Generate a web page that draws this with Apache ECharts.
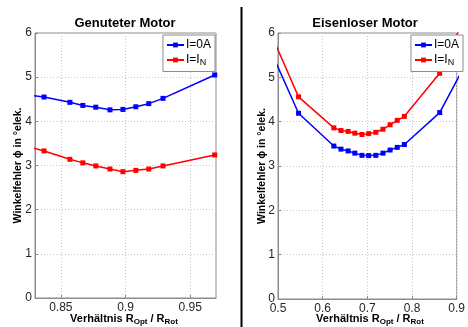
<!DOCTYPE html>
<html><head><meta charset="utf-8">
<script src="https://cdn.jsdelivr.net/npm/echarts@6/dist/echarts.min.js"></script>
<style>html,body{margin:0;padding:0;background:#fff}#c{width:468px;height:327px}</style>
</head><body><div id="c"></div>
<script>
// Left chart: Genuteter Motor (first point lies just outside the axis range, clipped)
const leftX    = [0.817, 0.837, 0.857, 0.867, 0.877, 0.888, 0.898, 0.908, 0.918, 0.929, 0.969];
const leftBlue = [4.63, 4.55, 4.43, 4.36, 4.32, 4.26, 4.27, 4.33, 4.40, 4.52, 5.05];
const leftRed  = [3.49, 3.33, 3.14, 3.06, 2.99, 2.92, 2.86, 2.89, 2.92, 2.99, 3.24];
// Right chart: Eisenloser Motor (end points lie outside the axis range, clipped)
const rightX    = [0.48, 0.546, 0.625, 0.641, 0.657, 0.672, 0.688, 0.703, 0.719, 0.735, 0.751, 0.767, 0.783, 0.862, 0.92];
const rightBlue = [5.68, 4.19, 3.45, 3.38, 3.34, 3.29, 3.24, 3.235, 3.24, 3.29, 3.36, 3.42, 3.485, 4.205, 5.30];
const rightRed  = [6.08, 4.56, 3.86, 3.80, 3.78, 3.74, 3.71, 3.73, 3.76, 3.83, 3.93, 4.03, 4.12, 5.09, 6.40];
const seriesNames = ['I=0A', 'I=IN'];
const titles = ['Genuteter Motor', 'Eisenloser Motor'];
const yTitle = 'Winkelfehler \u03d5 in \u00b0elek.';
const xTitle = 'Verh\u00e4ltnis R{sub|Opt} / R{sub|Rot}';

const FONT = '"Liberation Sans", Arial, sans-serif';
const AX = '#8c8c8c';
const pair = (xs, ys) => xs.map((x, i) => [x, ys[i]]);

function yAxis(g) {
  return {
    gridIndex: g, type: 'value', min: 0, max: 6, interval: 1,
    axisLine: {show: true, lineStyle: {color: AX, width: 1}},
    axisTick: {show: true, inside: true, length: 3, lineStyle: {color: AX}},
    axisLabel: {margin: 3, color: '#262626', fontSize: 12, fontFamily: FONT},
    splitLine: {show: true, lineStyle: {color: '#c8c8c8', type: [1, 2], width: 1}}
  };
}
function line(name, data, color, g) {
  return {
    name, type: 'line', xAxisIndex: g, yAxisIndex: g, data,
    symbol: 'rect', symbolSize: 5, showAllSymbol: true, clip: true,
    lineStyle: {color, width: 1.5}, itemStyle: {color},
    animation: false
  };
}
const legendBase = {
  orient: 'vertical', top: 35, itemGap: 3, itemWidth: 17, itemHeight: 6,
  padding: [4, 4, 4, 3], backgroundColor: '#fff', borderColor: '#8c8c8c', borderWidth: 1,
  data: seriesNames, selectedMode: false,
  formatter: n => n === 'I=IN' ? 'I=I{sub|N}' : n,
  textStyle: {fontSize: 12, fontFamily: FONT, color: '#000', padding: [0,0,0,-3],
    rich: {sub: {fontSize: 9, fontFamily: FONT, color: '#000', padding: [6, 0, 0, 0]}}}
};

const chart = echarts.init(document.getElementById('c'), null, {renderer: 'canvas'});
chart.setOption({
  animation: false,
  backgroundColor: '#fff',
  grid: [
    {left: 35, top: 33, width: 181, height: 265, show: true, borderColor: AX, borderWidth: 1, backgroundColor: '#fff'},
    {left: 278, top: 33, width: 185, height: 266, show: true, borderColor: AX, borderWidth: 1, backgroundColor: '#fff'}
  ],
  xAxis: [
    {gridIndex: 0, type: 'value', min: 0.83, max: 0.97, splitNumber: 3,
     axisLine: {show: true, lineStyle: {color: AX}},
     axisTick: {show: true, inside: true, length: 3, lineStyle: {color: AX}},
     axisLabel: {margin: 4, color: '#262626', fontSize: 12, fontFamily: FONT, showMinLabel: false, showMaxLabel: false},
     splitLine: {show: true, lineStyle: {color: '#c8c8c8', type: [1, 2], width: 1}}},
    {gridIndex: 1, type: 'value', min: 0.5, max: 0.9, interval: 0.1,
     axisLine: {show: true, lineStyle: {color: AX}},
     axisTick: {show: true, inside: true, length: 3, lineStyle: {color: AX}},
     axisLabel: {margin: 4, color: '#262626', fontSize: 12, fontFamily: FONT, formatter: v => String(+v.toFixed(2))},
     splitLine: {show: true, lineStyle: {color: '#c8c8c8', type: [1, 2], width: 1}}}
  ],
  yAxis: [yAxis(0), yAxis(1)],
  legend: [
    Object.assign({}, legendBase, {right: 468 - 215}),
    Object.assign({}, legendBase, {right: 468 - 463})
  ],
  series: [
    line(seriesNames[0], pair(leftX, leftBlue), '#0000ff', 0),
    line(seriesNames[1], pair(leftX, leftRed), '#ff0000', 0),
    line(seriesNames[0], pair(rightX, rightBlue), '#0000ff', 1),
    line(seriesNames[1], pair(rightX, rightRed), '#ff0000', 1)
  ],
  graphic: [
    {type: 'line', shape: {x1: 241.5, y1: 7, x2: 241.5, y2: 327}, style: {stroke: '#000', lineWidth: 2}},
    {type: 'text', x: 125, y: 23, style: {text: titles[0], align: 'center', verticalAlign: 'middle', textAlign: 'center', textVerticalAlign: 'middle', font: 'bold 13px ' + FONT, fill: '#000'}},
    {type: 'text', x: 365, y: 23, style: {text: titles[1], align: 'center', verticalAlign: 'middle', textAlign: 'center', textVerticalAlign: 'middle', font: 'bold 13px ' + FONT, fill: '#000'}},
    {type: 'text', x: 18.5, y: 165.5, rotation: Math.PI / 2, style: {text: yTitle, align: 'center', verticalAlign: 'middle', textAlign: 'center', textVerticalAlign: 'middle', font: 'bold 10.5px ' + FONT, fill: '#000'}},
    {type: 'text', x: 262, y: 166, rotation: Math.PI / 2, style: {text: yTitle, align: 'center', verticalAlign: 'middle', textAlign: 'center', textVerticalAlign: 'middle', font: 'bold 10.5px ' + FONT, fill: '#000'}},
    {type: 'text', x: 124, y: 319, style: {text: xTitle, align: 'center', verticalAlign: 'middle', textAlign: 'center', textVerticalAlign: 'middle', font: 'bold 11px ' + FONT, fill: '#000',
      rich: {sub: {font: 'bold 8px ' + FONT, fontSize: 8, fontWeight: 'bold', fill: '#000', padding: [6, 0, 0, 0]}}}},
    {type: 'text', x: 370, y: 319, style: {text: xTitle, align: 'center', verticalAlign: 'middle', textAlign: 'center', textVerticalAlign: 'middle', font: 'bold 11px ' + FONT, fill: '#000',
      rich: {sub: {font: 'bold 8px ' + FONT, fontSize: 8, fontWeight: 'bold', fill: '#000', padding: [6, 0, 0, 0]}}}}
  ]
});
</script></body></html>
